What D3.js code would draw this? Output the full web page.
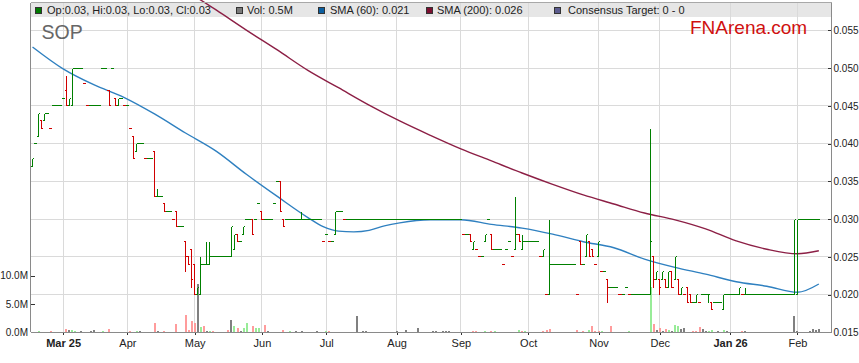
<!DOCTYPE html>
<html>
<head>
<meta charset="utf-8">
<script src="https://cdn.jsdelivr.net/npm/d3@7"></script>
<style>
  html, body { margin: 0; padding: 0; background: #fff; }
  svg { display: block; font-family: "Liberation Sans", Arial, sans-serif; }
</style>
</head>
<body>
<svg id="chart" width="859" height="363"></svg>
<script>
const code = 'SOP';

// one entry per trading day, Feb 17 2025 .. Feb 10 2026
// a plain number is a flat day, otherwise [open, high, low, close]
const bars = [
  [.037,.038,.037,.038], .040, [.041,.044,.041,.044], [.043,.043,.042,.042], [.043,.044,.043,.044], .044, .042, .045, .045, .045,
  .046, [.047,.049,.045,.045], [.045,.046,.045,.046], [.045,.050,.045,.050], .050, .050, .050, .048, .045, .045,
  .045, .045, .045, .050, .050, [.047,.047,.045,.045], .050, [.046,.046,.045,.045], [.045,.046,.045,.046], .046,
  .045, .045, .042, [.041,.041,.038,.038], [.039,.040,.039,.040], .040, .040, .038, .038, .038,
  [.039,.039,.033,.033], [.033,.034,.033,.033], .033, [.032,.032,.031,.031], .031, .031, .030, [.031,.031,.029,.029], .029, .029,
  [.027,.027,.023,.025], [.025,.025,.024,.024], [.026,.026,.021,.022], [.024,.024,.020,.020], [.020,.021,.020,.021], [.020,.025,.020,.024], .024, [.024,.027,.024,.024], [.024,.027,.024,.025], .025,
  .025, .025, .025, .025, .025, [.025,.029,.025,.029], [.026,.028,.026,.028], [.028,.028,.027,.027], .027, [.028,.029,.028,.029],
  .030, .030, [.030,.030,.028,.028], .030, .032, [.031,.031,.030,.030], .030, .030, .030, .032,
  .035, [.035,.035,.031,.031], [.030,.030,.029,.029], .030, .030, .030, .030, .030, [.030,.031,.030,.030], .030,
  .030, .030, .030, .030, .030, .027, .028, .027, .027, [.028,.031,.028,.031],
  .031, .031, .030, .030, .030, .030, .030, .030, .030, .030,
  .030, .030, .030, .030, .030, .030, .030, .030, .030, .030,
  .030, .030, .030, .030, .030, .030, .030, .030, .030, .030,
  .030, .030, .030, .030, .030, .030, .030, .030, .030, .030,
  .030, .028, .028, [.028,.028,.027,.027], [.026,.027,.026,.027], .026, .025, .025, [.027,.028,.027,.028], .030,
  [.028,.028,.026,.026], .026, .026, .026, .024, .026, .027, .025, [.026,.033,.026,.028], [.028,.028,.027,.027],
  [.026,.028,.026,.027], .027, .027, .027, .027, .027, .025, [.025,.026,.025,.026], .020, [.020,.030,.020,.024],
  .024, .024, .024, .024, .024, .024, .024, .024, .020, [.027,.027,.024,.024],
  .024, [.025,.028,.025,.028], [.027,.027,.025,.025], [.026,.026,.025,.025], .024, [.025,.027,.025,.027], .023, .023, [.022,.022,.019,.021], .021,
  .021, .021, .020, .020, .021, .020, .020, .020, .020, .020,
  .020, .020, [.020,.042,.020,.027], [.025,.025,.021,.022], [.022,.023,.022,.023], [.022,.022,.020,.021], [.022,.023,.022,.023], [.022,.022,.021,.021], [.021,.023,.021,.023], [.023,.023,.021,.021],
  [.022,.025,.022,.025], [.022,.022,.020,.020], [.020,.021,.020,.021], .020, [.021,.021,.019,.019], [.020,.020,.019,.019], .019, [.019,.020,.019,.020], .019, .020,
  .020, [.020,.020,.019,.020], [.019,.019,.018,.018], .019, .019, .019, [.018,.020,.018,.020], .020, .020, .020,
  .020, [.020,.021,.020,.021], .020, [.020,.021,.020,.020], .020, .020, .020, .020, .020, .020,
  .020, .020, .020, .020, .020, .020, .020, .020, .020, [.020,.030,.020,.030],
  [.020,.030,.020,.030], .030, .030, .030, .030, .030, .030, .030
];

// [day index, volume in millions, u = up / d = down / n = unchanged]
const volumes = [
  [2,.24,'u'],[6,.25,'d'],[11,.6,'d'],[12,.4,'n'],[13,.4,'u'],[14,.3,'u'],[16,.2,'n'],[19,.2,'n'],[20,.4,'n'],
  [23,.2,'u'],[25,.6,'d'],[32,.2,'d'],[34,.2,'u'],[35,.2,'n'],[40,1.6,'d'],[41,.2,'n'],[43,.2,'d'],[47,1.4,'d'],
  [50,3.0,'d'],[51,.4,'d'],[52,2.0,'d'],[53,1.6,'d'],[54,8.6,'n'],[55,.9,'u'],[56,1.2,'d'],[57,.2,'n'],[58,.2,'u'],
  [59,.3,'d'],[64,.4,'d'],[65,2.1,'n'],[66,1.2,'u'],[67,.7,'d'],[68,.2,'n'],[69,.8,'u'],[70,1.6,'u'],[72,1.1,'d'],
  [73,.8,'u'],[74,.8,'u'],[76,1.3,'d'],[77,.3,'n'],[82,.4,'d'],[84,.2,'u'],[86,.2,'n'],[88,.2,'n'],[93,.2,'n'],
  [96,.2,'u'],[97,.2,'d'],[106,2.8,'n'],[108,.2,'n'],[109,.2,'n'],[119,.2,'n'],[122,.4,'n'],[126,.7,'n'],
  [131,.2,'n'],[132,.2,'n'],[134,.2,'n'],[135,.2,'n'],[136,.2,'n'],[144,.2,'d'],[145,.2,'d'],[148,.2,'u'],
  [150,.2,'d'],[151,.2,'u'],[159,.4,'u'],[160,.3,'d'],[161,.2,'u'],[167,.2,'d'],[168,.4,'d'],[169,.6,'d'],
  [178,.4,'d'],[180,.2,'d'],[182,.4,'u'],[183,1.1,'d'],[184,.3,'d'],[185,.2,'d'],[186,.3,'u'],[189,1.1,'d'],
  [195,.2,'u'],[202,8.0,'u'],[203,1.4,'d'],[204,.4,'n'],[205,.8,'d'],[206,.3,'n'],[207,.6,'d'],[208,.4,'u'],
  [209,.3,'n'],[210,1.3,'u'],[211,1.1,'u'],[212,.6,'n'],[213,.8,'n'],[216,.2,'d'],[217,.3,'d'],[218,.9,'d'],
  [219,.6,'n'],[220,.3,'n'],[221,.2,'u'],[222,.4,'u'],[224,.2,'n'],[226,.4,'u'],[227,.2,'n'],[232,.2,'d'],
  [233,.2,'n'],[249,2.8,'n'],[250,.2,'n'],[254,.3,'n'],[255,.5,'n'],[256,.4,'n'],[257,.5,'n']
];

const sma60Idx = [0,10,20,30,40,50,60,70,80,90,95,100,105,110,115,120,130,140,150,160,170,180,190,200,210,220,230,240,250,257];
const sma60 = [.0528,.0499,.0478,.0461,.0439,.0414,.0390,.0359,.0330,.0302,.0290,.0284,.0283,.0285,.0291,.0295,.0299,.0299,
  .0293,.0288,.0280,.0270,.0262,.0247,.0236,.0227,.0217,.0211,.0203,.0214];

const sma200Idx = [50,60,70,80,90,100,110,120,130,140,150,160,170,180,190,200,210,220,230,240,250,257];
const sma200 = [.0603,.0577,.0550,.0524,.0497,.0474,.0451,.0430,.0411,.0393,.0377,.0361,.0346,.0332,.0320,.0308,
  .0299,.0287,.0271,.0260,.0254,.0258];

const monthIdx = [10,31,53,75,96,119,140,162,185,205,228,250];
const monthLabels = ['Mar 25','Apr','May','Jun','Jul','Aug','Sep','Oct','Nov','Dec','Jan 26','Feb'];
const priceTicks = [0.015,0.020,0.025,0.030,0.035,0.040,0.045,0.050,0.055];
const volTicks = [0,5,10];
const consensus = [0, 0];

const plotLeft = 31, plotRight = 832, plotTop = 3, plotBottom = 332.3;
const green = '#008000', red = '#d00000';
const volColor = { u: '#98ec98', d: '#ff9c9c', n: '#808080' };

const svg = d3.select('#chart');

let x = d3.scaleLinear().domain([-0.5, 261.3]).range([plotLeft, plotRight]);
let y = d3.scaleLinear().domain([0.015, 0.0587]).range([plotBottom, 2.4]);
let yv = d3.scaleLinear().domain([0, 58.2]).range([plotBottom, 2.9]);
const snap = v => Math.round(v - 0.5) + 0.5;

// bars -> ohlc objects, colour by open/close, flat days by previous close
let prevClose = null;
let data = bars.map((b, i) => {
  let d = typeof b === 'number' ? { o: b, h: b, l: b, c: b } : { o: b[0], h: b[1], l: b[2], c: b[3] };
  d.i = i;
  if (d.c > d.o) d.up = true;
  else if (d.c < d.o) d.up = false;
  else d.up = prevClose === null || d.c >= prevClose;
  prevClose = d.c;
  return d;
});

svg.append('defs').append('clipPath').attr('id', 'plotclip')
  .append('rect').attr('x', plotLeft).attr('y', 0).attr('width', plotRight - plotLeft).attr('height', plotBottom);

// legend strip
svg.append('rect').attr('x', plotLeft).attr('y', plotTop).attr('width', plotRight - plotLeft).attr('height', 14)
  .attr('fill', '#e6e6e6');

// grid
let grid = svg.append('g').attr('stroke', '#dadada').attr('stroke-width', 1).attr('shape-rendering', 'crispEdges');
grid.selectAll('line.h').data(priceTicks.slice(1)).join('line')
  .attr('class', 'h')
  .attr('x1', plotLeft).attr('x2', plotRight)
  .attr('y1', d => snap(y(d))).attr('y2', d => snap(y(d)));
grid.selectAll('line.v').data(monthIdx).join('line')
  .attr('class', 'v')
  .attr('y1', plotTop).attr('y2', plotBottom)
  .attr('x1', d => snap(x(d))).attr('x2', d => snap(x(d)));

// volume
svg.append('g').attr('shape-rendering', 'crispEdges')
  .selectAll('rect').data(volumes).join('rect')
  .attr('x', d => Math.round(x(d[0]) - 1))
  .attr('width', 2)
  .attr('y', d => yv(d[1]))
  .attr('height', d => plotBottom - yv(d[1]))
  .attr('fill', d => volColor[d[2]]);

// moving averages
let plot = svg.append('g').attr('clip-path', 'url(#plotclip)');
let smaLine = d3.line().x(d => x(d[0])).y(d => y(d[1])).curve(d3.curveMonotoneX);
plot.append('path').datum(d3.zip(sma200Idx, sma200))
  .attr('d', smaLine).attr('fill', 'none').attr('stroke', '#8c1f45').attr('stroke-width', 1.4);
plot.append('path').datum(d3.zip(sma60Idx, sma60))
  .attr('d', smaLine).attr('fill', 'none').attr('stroke', '#2f80c0').attr('stroke-width', 1.4);

// ohlc bars
plot.append('g').attr('fill', 'none').attr('stroke-width', 1).attr('shape-rendering', 'crispEdges')
  .selectAll('path').data(data).join('path')
  .attr('stroke', d => d.up ? green : red)
  .attr('d', d => {
    let px = snap(x(d.i));
    let yh = snap(y(d.h)), yl = snap(y(d.l)), yo = snap(y(d.o)), yc = snap(y(d.c));
    let s = '';
    if (yl > yh) s += `M${px},${yh}V${yl}`;
    s += `M${x(d.i) - 1.53},${yo}H${px}M${px},${yc}H${x(d.i) + 1.53}`;
    return s;
  });

// axes
let rightAxis = svg.append('g').attr('transform', `translate(${plotRight},0)`)
  .call(d3.axisRight(y).tickValues(priceTicks).tickSize(-4).tickPadding(1.5).tickFormat(d3.format('.3f')));
let leftAxis = svg.append('g').attr('transform', `translate(${plotLeft},0)`)
  .call(d3.axisLeft(yv).tickValues(volTicks).tickSize(-4).tickPadding(3).tickFormat(d => d.toFixed(1) + 'M'));
let bottomAxis = svg.append('g').attr('transform', `translate(0,${plotBottom})`)
  .call(d3.axisBottom(x).tickValues(monthIdx).tickSize(3).tickPadding(3.5)
    .tickFormat((d, k) => monthLabels[k]));

[rightAxis, leftAxis, bottomAxis].forEach(a => {
  a.select('.domain').remove();
  a.selectAll('line').attr('stroke', '#333').attr('shape-rendering', 'crispEdges');
  a.selectAll('text').attr('fill', '#222').attr('font-size', 11)
    .attr('font-family', '"Liberation Sans", Arial, sans-serif');
});
rightAxis.selectAll('text').attr('font-size', 10);
leftAxis.selectAll('text').attr('font-size', 10);
bottomAxis.selectAll('text').attr('font-weight', (d, k) => monthLabels[k].includes(' ') ? 'bold' : null);

let frame = svg.append('g').attr('stroke', '#8a8a8a').attr('stroke-width', 1).attr('shape-rendering', 'crispEdges');
frame.append('line').attr('x1', plotLeft).attr('x2', plotRight).attr('y1', 2.5).attr('y2', 2.5).attr('stroke', '#a8a8a8');
frame.append('line').attr('x1', 30.5).attr('x2', 30.5).attr('y1', 2.5).attr('y2', plotBottom);
frame.append('line').attr('x1', 831.5).attr('x2', 831.5).attr('y1', 2.5).attr('y2', plotBottom);
frame.append('line').attr('x1', plotLeft).attr('x2', plotRight).attr('y1', 332.5).attr('y2', 332.5);

// titles
svg.append('text').attr('x', 41.5).attr('y', 39.3).attr('font-size', 19.5).attr('fill', '#666').text(code);
svg.append('text').attr('x', 690).attr('y', 34).attr('font-size', 19).attr('fill', '#d01010').text('FNArena.com');

// legend
let last = data[data.length - 1];
let fmt = v => String(+v.toFixed(3));
let legend = [
  { x: 35, tx: 47, color: '#007a00', text: `Op:${fmt(last.o)}, Hi:${fmt(last.h)}, Lo:${fmt(last.l)}, Cl:${fmt(last.c)}` },
  { x: 236, tx: 247, color: '#7a7a7a', text: `Vol: ${volumes[volumes.length - 1][1].toFixed(1)}M` },
  { x: 318, tx: 330, color: '#0c5fa0', text: `SMA (60): ${sma60[sma60.length - 1].toFixed(3)}` },
  { x: 426, tx: 437, color: '#7c0f30', text: `SMA (200): ${sma200[sma200.length - 1].toFixed(3)}` },
  { x: 554, tx: 568, color: '#5c5c8e', text: `Consensus Target: ${consensus[0]} - ${consensus[1]}` }
];
let lg = svg.append('g').selectAll('g').data(legend).join('g');
lg.append('rect').attr('x', d => d.x + 0.5).attr('y', 7.5).attr('width', 6).attr('height', 6)
  .attr('fill', d => d.color).attr('stroke', '#333').attr('stroke-width', 1).attr('shape-rendering', 'crispEdges');
lg.append('text').attr('x', d => d.tx).attr('y', 14.3).attr('font-size', 11).attr('fill', '#222').text(d => d.text);
</script>
</body>
</html>
